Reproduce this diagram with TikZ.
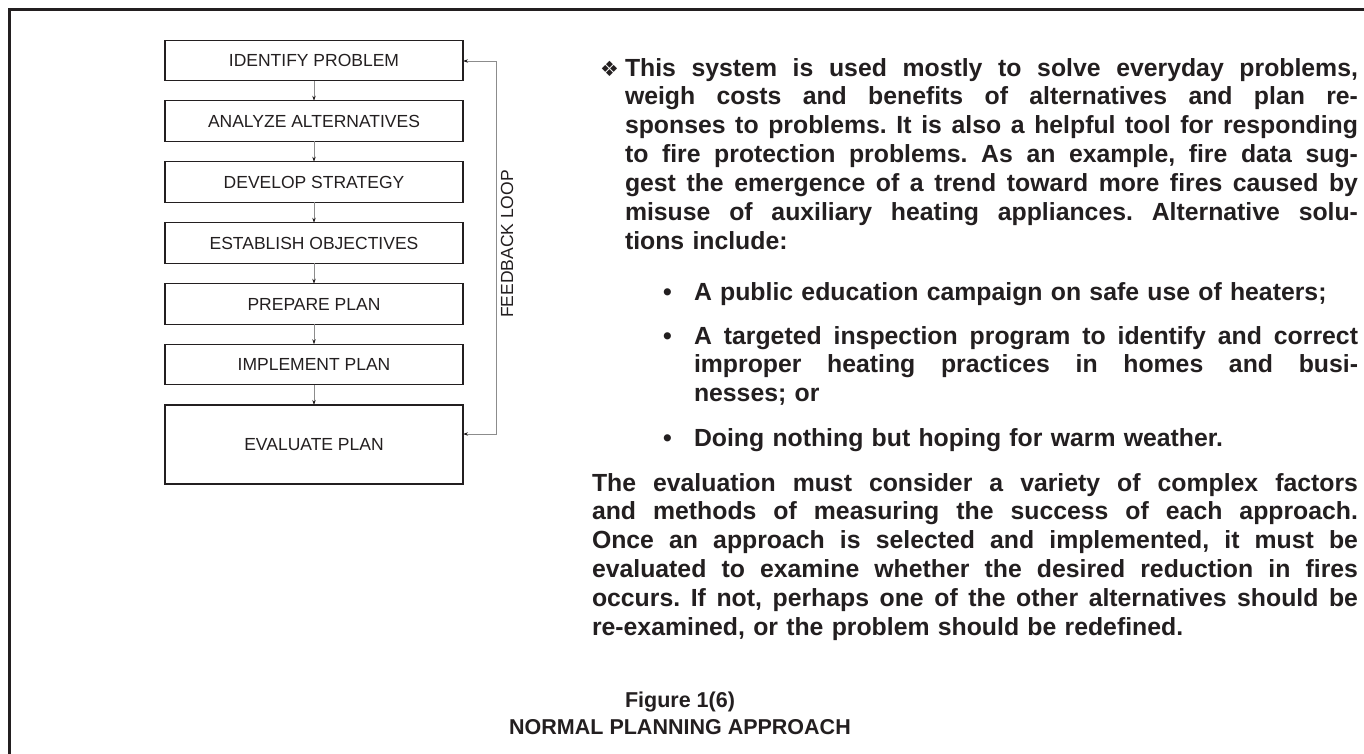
\documentclass[tikz,border=0pt]{standalone}
\usepackage{fontspec}
\setmainfont{Liberation Sans}
\newfontfamily\symfont{DejaVu Sans}
\usetikzlibrary{arrows.meta}
\definecolor{ink}{HTML}{231F20}
\definecolor{wire}{HTML}{8C8C8C}
% one justified line of a given width
\newcommand\jl[2]{\leavevmode\hbox to #1{\spaceskip=0pt plus 1fil\xspaceskip=0pt plus 1fil\relax #2}}
\tikzset{
  stepbox/.style={draw=ink, line width=1.2pt, minimum width=298pt, minimum height=40.5pt,
    inner sep=0pt, outer sep=0pt, font=\fontsize{17.5}{20}\selectfont, text=ink},
  flow/.style={draw=wire, line width=0.8pt, -{Stealth[length=5pt,width=3.4pt,color=ink]}},
  loopline/.style={draw=wire, line width=0.8pt,
    {Stealth[length=5pt,width=3.4pt,color=ink]}-{Stealth[length=5pt,width=3.4pt,color=ink]}},
  body/.style={anchor=base west, inner sep=0pt, outer sep=0pt, align=left,
    font=\bfseries\fontsize{24.8}{28.9}\selectfont\frenchspacing, text=ink},
  glyph/.style={anchor=base west, inner sep=0pt, outer sep=0pt, text=ink},
  captext/.style={anchor=base, inner sep=0pt, outer sep=0pt, text=ink,
    font=\bfseries\fontsize{21.5}{25}\selectfont},
}
\begin{document}
\begin{tikzpicture}[x=1pt,y=-1pt]
\useasboundingbox (0,0) rectangle (1364,753);
\fill[white] (0,0) rectangle (1364,753);
% page frame
\draw[ink, line width=3pt] (9.5,775) -- (9.5,9.3) -- (1380,9.3);

% flow chart
\node[stepbox] (b1) at (314,60.5) {IDENTIFY PROBLEM};
\node[stepbox] (b2) at (314,121) {ANALYZE ALTERNATIVES};
\node[stepbox] (b3) at (314,182) {DEVELOP STRATEGY};
\node[stepbox] (b4) at (314,243) {ESTABLISH OBJECTIVES};
\node[stepbox] (b5) at (314,304) {PREPARE PLAN};
\node[stepbox] (b6) at (314,364.5) {IMPLEMENT PLAN};
\node[stepbox, minimum height=79pt] (b7) at (314,444.5) {EVALUATE PLAN};

\draw[flow] (b1) -- (b2);
\draw[flow] (b2) -- (b3);
\draw[flow] (b3) -- (b4);
\draw[flow] (b4) -- (b5);
\draw[flow] (b5) -- (b6);
\draw[flow] (b6) -- (b7);

\coordinate (fa) at (496,434);
\coordinate (fb) at (496,61);
\draw[loopline] (b7.east |- fa) -- (fa) -- (fb) -- (b1.east |- fb);
\node[rotate=90, inner sep=0pt, text=ink, font=\fontsize{17.5}{20}\selectfont] (fl) at (507,244) {FEEDBACK LOOP};

% text column
\node[glyph, font=\symfont\fontsize{21}{24}\selectfont] (dia) at (600,76) {❖};
\node[body, text width=733pt] (p1) at (625,76) {%
\jl{733pt}{This system is used mostly to solve everyday problems,}\\
\jl{733pt}{weigh costs and benefits of alternatives and plan re-}\\
\jl{733pt}{sponses to problems. It is also a helpful tool for responding}\\
\jl{733pt}{to fire protection problems. As an example, fire data sug-}\\
\jl{733pt}{gest the emergence of a trend toward more fires caused by}\\
\jl{733pt}{misuse of auxiliary heating appliances. Alternative solu-}\\
tions include:};

\node[glyph, font=\bfseries\fontsize{24.8}{28.9}\selectfont] (d1) at (663,300) {•};
\node[body, text width=664pt] (l1) at (694,300) {A public education campaign on safe use of heaters;};
\node[glyph, font=\bfseries\fontsize{24.8}{28.9}\selectfont] (d2) at (663,344) {•};
\node[body, text width=664pt] (l2) at (694,344) {%
\jl{664pt}{A targeted inspection program to identify and correct}\\
\jl{664pt}{improper heating practices in homes and busi-}\\
nesses; or};
\node[glyph, font=\bfseries\fontsize{24.8}{28.9}\selectfont] (d3) at (663,446) {•};
\node[body, text width=664pt] (l3) at (694,446) {Doing nothing but hoping for warm weather.};

\node[body, text width=766pt] (p2) at (592,491) {%
\jl{766pt}{The evaluation must consider a variety of complex factors}\\
\jl{766pt}{and methods of measuring the success of each approach.}\\
\jl{766pt}{Once an approach is selected and implemented, it must be}\\
\jl{766pt}{evaluated to examine whether the desired reduction in fires}\\
\jl{766pt}{occurs. If not, perhaps one of the other alternatives should be}\\
re-examined, or the problem should be redefined.};

% caption
\node[captext] (c1) at (680,707) {Figure 1(6)};
\node[captext] (c2) at (680,734) {NORMAL PLANNING APPROACH};
\end{tikzpicture}
\end{document}
